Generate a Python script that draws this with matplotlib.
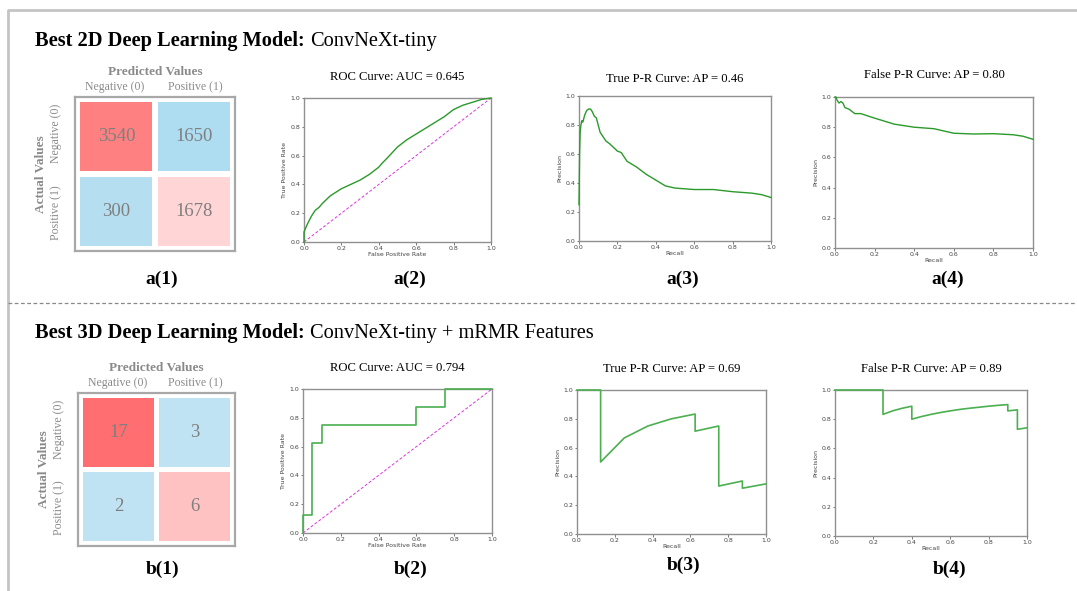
import matplotlib
matplotlib.use("Agg")
import matplotlib.pyplot as plt
from matplotlib.patches import Rectangle
from matplotlib.lines import Line2D

W, H = 1077, 591
SERIF = "Liberation Serif"

# ---------------- data ----------------
cm_labels = ["Negative (0)", "Positive (1)"]
cm_a = [[3540, 1650], [300, 1678]]
cm_a_colors = [["#FF8080", "#AEDDF1"], ["#B6DEF1", "#FFD5D6"]]
cm_b = [[17, 3], [2, 6]]
cm_b_colors = [["#FF6E70", "#C0E3F3"], ["#C0E3F3", "#FFC2C3"]]

roc_a_fpr = [0.0, 0.0, 0.01, 0.02, 0.04, 0.06, 0.08, 0.10, 0.14, 0.20, 0.25, 0.30, 0.35,
             0.40, 0.42, 0.45, 0.50, 0.55, 0.60, 0.65, 0.70, 0.75, 0.80, 0.85, 0.90, 0.95, 1.0]
roc_a_tpr = [0.0, 0.07, 0.10, 0.13, 0.18, 0.22, 0.24, 0.27, 0.32, 0.37, 0.40, 0.43, 0.47,
             0.52, 0.55, 0.59, 0.66, 0.71, 0.75, 0.79, 0.83, 0.87, 0.92, 0.95, 0.97, 0.99, 1.0]
auc_a = 0.645

pr_a_rec = [0.0, 0.003, 0.006, 0.01, 0.015, 0.02, 0.03, 0.04, 0.05, 0.06, 0.07, 0.08, 0.09,
            0.10, 0.11, 0.12, 0.14, 0.16, 0.20, 0.22, 0.25, 0.30, 0.35, 0.40, 0.45, 0.50,
            0.60, 0.70, 0.80, 0.90, 0.95, 1.0]
pr_a_prec = [0.25, 0.60, 0.75, 0.80, 0.83, 0.82, 0.87, 0.90, 0.91, 0.91, 0.89, 0.86, 0.85,
             0.80, 0.75, 0.73, 0.69, 0.67, 0.62, 0.61, 0.55, 0.51, 0.46, 0.42, 0.38, 0.365,
             0.355, 0.355, 0.34, 0.33, 0.32, 0.30]
ap_a_true = 0.46

fpr_a_rec = [0.0, 0.005, 0.01, 0.02, 0.03, 0.04, 0.05, 0.07, 0.10, 0.13, 0.20, 0.25, 0.30,
             0.40, 0.50, 0.60, 0.70, 0.80, 0.90, 0.95, 1.0]
fpr_a_prec = [1.0, 1.0, 0.98, 0.96, 0.97, 0.96, 0.93, 0.92, 0.89, 0.89, 0.86, 0.84, 0.82,
              0.80, 0.79, 0.76, 0.755, 0.757, 0.75, 0.74, 0.72]
ap_a_false = 0.80

roc_b_fpr = [0.0, 0.0, 0.05, 0.05, 0.10, 0.10, 0.60, 0.60, 0.75, 0.75, 1.0]
roc_b_tpr = [0.0, 0.125, 0.125, 0.625, 0.625, 0.75, 0.75, 0.875, 0.875, 1.0, 1.0]
auc_b = 0.794

pr_b_rec = [0.0, 0.125, 0.125, 0.25, 0.375, 0.5, 0.625, 0.625, 0.75, 0.75, 0.875, 0.875, 1.0]
pr_b_prec = [1.0, 1.0, 0.5, 0.667, 0.75, 0.8, 0.833, 0.714, 0.75, 0.333, 0.368, 0.318, 0.348]
ap_b_true = 0.69

fpr_b_rec = [0.0, 0.25, 0.25, 0.30, 0.35, 0.40, 0.40, 0.45, 0.50, 0.55, 0.60, 0.65, 0.70,
             0.75, 0.80, 0.85, 0.90, 0.90, 0.95, 0.95, 1.0]
fpr_b_prec = [1.0, 1.0, 0.833, 0.857, 0.875, 0.889, 0.80, 0.818, 0.833, 0.846, 0.857, 0.867,
              0.875, 0.882, 0.889, 0.895, 0.90, 0.857, 0.864, 0.731, 0.741]
ap_b_false = 0.89

# ---------------- figure ----------------
fig = plt.figure(figsize=(W / 100, H / 100), dpi=100)
fig.patch.set_facecolor("white")


def fx(x):
    return x / W


def fy(y):
    return 1 - y / H


def add_ax(x0, y0, x1, y1):
    return fig.add_axes([fx(x0), fy(y1), (x1 - x0) / W, (y1 - y0) / H])


def ftext(x, y, s, **kw):
    kw.setdefault("family", SERIF)
    fig.text(fx(x), fy(y), s, **kw)


# outer frame and divider
fig.add_artist(Line2D([fx(8), fx(8), fx(1077)], [fy(591), fy(10), fy(10)],
                      color="#c4c4c4", lw=2, transform=fig.transFigure))
fig.add_artist(Line2D([fx(8), fx(1077)], [fy(303), fy(303)], color="#888888", lw=0.9,
                      ls=(0, (3, 2)), transform=fig.transFigure))


def section_title(y, bold, normal):
    t = fig.text(fx(35), fy(y), bold, family=SERIF, fontweight="bold", fontsize=14.7,
                 va="baseline", ha="left")
    fig.canvas.draw()
    bb = t.get_window_extent()
    fig.text((bb.x1 + 5) / W, fy(y), normal, family=SERIF, fontsize=14.7,
             va="baseline", ha="left")


section_title(46, "Best 2D Deep Learning Model:", "ConvNeXt-tiny")
section_title(338, "Best 3D Deep Learning Model:", "ConvNeXt-tiny + mRMR Features")


def conf_matrix(x0, y0, x1, y1, values, colors):
    ax = add_ax(x0, y0, x1, y1)
    pad = 0.035
    gap = 0.07
    ax.set_xlim(-pad, 2 + pad)
    ax.set_ylim(2 + pad, -pad)
    for i in range(2):
        for j in range(2):
            ax.add_patch(Rectangle((j + gap / 2, i + gap / 2), 1 - gap, 1 - gap,
                                   facecolor=colors[i][j], edgecolor="none"))
            ax.text(j + 0.5, i + 0.5, str(values[i][j]), ha="center", va="center",
                    family=SERIF, fontsize=13.5, color="#7f7f7f")
    ax.set_xticks([])
    ax.set_yticks([])
    for s in ax.spines.values():
        s.set_color("#a8a8a8")
        s.set_linewidth(1.6)
    cx = (x0 + x1) / 2
    ftext(cx, y0 - 25, "Predicted Values", ha="center", va="center",
          fontweight="bold", fontsize=9.5, color="#8a8a8a")
    colw = (x1 - x0) / 2
    ftext(x0 + colw * 0.5, y0 - 10, cm_labels[0], ha="center", va="center",
          fontsize=8.5, color="#8a8a8a")
    ftext(x0 + colw * 1.5, y0 - 10, cm_labels[1], ha="center", va="center",
          fontsize=8.5, color="#8a8a8a")
    rowh = (y1 - y0) / 2
    ftext(x0 - 19, y0 + rowh * 0.5 - 2, cm_labels[0], ha="center", va="center",
          rotation=90, fontsize=8.5, color="#8a8a8a")
    ftext(x0 - 19, y0 + rowh * 1.5, cm_labels[1], ha="center", va="center",
          rotation=90, fontsize=8.5, color="#8a8a8a")
    ftext(x0 - 34, (y0 + y1) / 2, "Actual Values", ha="center", va="center",
          rotation=90, fontweight="bold", fontsize=9.5, color="#8a8a8a")


def curve_plot(x0, y0, x1, y1, xs, ys, color, xlabel, ylabel, title, title_y,
               diag=False, lw=1.0):
    ax = add_ax(x0, y0, x1, y1)
    ax.plot(xs, ys, color=color, lw=lw, clip_on=False, zorder=4)
    if diag:
        ax.plot([0, 1], [0, 1], color="#dd33dd", lw=0.7, ls=(0, (3, 2)), zorder=3)
    ax.set_xlim(0, 1)
    ax.set_ylim(0, 1)
    ticks = [0.0, 0.2, 0.4, 0.6, 0.8, 1.0]
    ax.set_xticks(ticks)
    ax.set_yticks(ticks)
    ax.tick_params(labelsize=4.5, length=1.8, width=0.5, pad=1, colors="#444444")
    ax.set_xlabel(xlabel, fontsize=4.5, labelpad=1, color="#444444")
    ax.set_ylabel(ylabel, fontsize=4.5, labelpad=2, color="#444444")
    for s in ax.spines.values():
        s.set_color("#909090")
        s.set_linewidth(1.0)
        s.set_zorder(2)
    ftext((x0 + x1) / 2, title_y, title, ha="center", va="center", fontsize=9.1)
    return ax


def panel_label(x, y, s):
    ftext(x, y, s, ha="center", va="center", fontweight="bold", fontsize=14)


# ---- row a ----
conf_matrix(75, 97, 235, 251, cm_a, cm_a_colors)
panel_label(162, 279, "a(1)")

GA = "#2a9a2a"
curve_plot(304, 98, 491, 242, roc_a_fpr, roc_a_tpr, GA, "False Positive Rate",
           "True Positive Rate", f"ROC Curve: AUC = {auc_a:.3f}", 77, diag=True)
panel_label(410, 279, "a(2)")

curve_plot(579, 96, 771, 241, pr_a_rec, pr_a_prec, GA, "Recall", "Precision",
           f"True P-R Curve: AP = {ap_a_true:.2f}", 79)
panel_label(683, 279, "a(3)")

curve_plot(835, 97, 1033, 248, fpr_a_rec, fpr_a_prec, GA, "Recall", "Precision",
           f"False P-R Curve: AP = {ap_a_false:.2f}", 75)
panel_label(948, 279, "a(4)")

# ---- row b ----
conf_matrix(78, 393, 235, 546, cm_b, cm_b_colors)
panel_label(163, 569, "b(1)")

GB = "#4caf50"
curve_plot(303, 389, 492, 533, roc_b_fpr, roc_b_tpr, GB, "False Positive Rate",
           "True Positive Rate", f"ROC Curve: AUC = {auc_b:.3f}", 368, diag=True, lw=1.2)
panel_label(411, 569, "b(2)")

curve_plot(577, 390, 766, 534, pr_b_rec, pr_b_prec, GB, "Recall", "Precision",
           f"True P-R Curve: AP = {ap_b_true:.2f}", 369, lw=1.2)
panel_label(684, 565, "b(3)")

curve_plot(835, 390, 1027, 536, fpr_b_rec, fpr_b_prec, GB, "Recall", "Precision",
           f"False P-R Curve: AP = {ap_b_false:.2f}", 369, lw=1.2)
panel_label(950, 569, "b(4)")

fig.savefig("out.png", dpi=100)
